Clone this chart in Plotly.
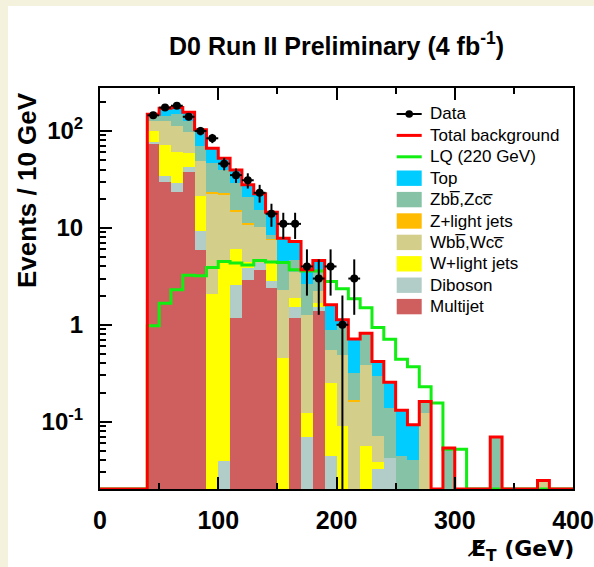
import numpy as np
import plotly.graph_objects as go

# ---------------- data (10 GeV bins from 0 to 400 GeV) ----------------
edges = list(range(0, 410, 10))

multijet = [0, 0, 0, 0, 73.5, 29.6, 23.2, 38.1, 5.93, 0,
            0, 1.17, 2.91, 3.69, 2.39, 0, 1.17, 0, 1.39, 0,
            0, 0, 0, 0, 0, 0, 0, 0, 0, 0,
            0, 0, 0, 0, 0, 0, 0, 0, 0, 0]
diboson = [0, 0, 0, 0, 4.1, 4.8, 5.7, 3.9, 3.3, 0,
           0.039, 1.41, 0.93, 0.64, 0.41, 0, 0.37, 0.07, 0.15, 0.044,
           0, 0, 0, 0.0325, 0.042, 0, 0, 0, 0, 0,
           0, 0, 0, 0, 0, 0, 0, 0, 0, 0]
w_light = [0, 0, 0, 0, 23.1, 37.3, 31.2, 17.3, 12.2, 2.09,
           4.3, 3.5, 0.6, 0, 1.5, 0.45, 0.34, 0.053, 0.15, 0.206,
           0.09, 0, 0.056, 0.0055, 0, 0, 0, 0, 0, 0,
           0, 0, 0, 0, 0, 0, 0, 0, 0, 0]
w_bb = [0, 0, 0, 0, 27.0, 55.1, 52.5, 39.1, 27.7, 20.3,
        17.7, 8.8, 6.5, 6.0, 3.2, 1.85, 1.66, 1.15, 0.55, 0.30,
        0.40, 0.158, 0.331, 0.0325, 0, 0, 0, 0.123, 0, 0,
        0, 0, 0, 0, 0, 0, 0, 0.0247, 0, 0]
z_light = [0, 0, 0, 0, 0, 0, 0, 0, 0.3, 0.8,
           0.8, 0.4, 0.3, 0, 0.2, 0, 0, 0, 0, 0,
           0, 0.011, 0, 0, 0, 0, 0, 0, 0, 0,
           0, 0, 0, 0, 0, 0, 0, 0, 0, 0]
z_bb = [0, 0, 0, 0, 16.8, 17.0, 36.1, 28.6, 20.4, 23.3,
        16.8, 13.6, 9.8, 5.0, 0.8, 2.0, 1.14, 1.38, 1.28, 0.336,
        0.50, 0.153, 0.433, 0.2225, 0.096, 0.044, 0.0405, 0.039, 0, 0.0536,
        0, 0, 0, 0.0695, 0, 0, 0, 0, 0, 0]
top = [0, 0, 0, 0, 4.1, 27.6, 26.3, 29.0, 33.0, 19.8,
       12.7, 10.7, 6.8, 7.1, 6.0, 3.5, 2.54, 1.04, 1.08, 0.72,
       0.14, 0.39, 0, 0.126, 0.117, 0.087, 0.0525, 0, 0, 0,
       0, 0, 0, 0, 0, 0, 0, 0, 0, 0]
lq_220 = [0, 0, 0, 0, 0.98, 1.67, 2.3, 3.25, 3.2, 3.9,
          4.5, 4.33, 4.15, 4.6, 4.45, 4.4, 3.7, 3.6, 3.6, 2.8,
          2.35, 1.86, 1.5, 0.94, 0.71, 0.44, 0.37, 0.23, 0.156, 0.052,
          0.052, 0, 0, 0, 0, 0, 0, 0, 0, 0]
data_counts = [145, 174, 182, 140, 100, 84, 46, 35, 31, 23,
               14, 11, 11, 4, 3, 4, 1, 3]
data_first_bin = 4

x_tickvals = [0, 100, 200, 300, 400]
x_ticktext = ["0", "100", "200", "300", "400"]
y_tickvals = [0.1, 1, 10, 100]
y_ticktext = ["10<sup>-1</sup>", "1", "10", "10<sup>2</sup>"]

# ---------------- geometry helpers (style only) ----------------
W, H = 594, 567
L, R, T, B = 100, 21, 88, 78
PW, PH = W - L - R, H - T - B
def px(x):
    return (x - L) / PW
def py(y):
    return (H - B - y) / PH

ylog_range = [-1.694, 2.443]
floor = 10 ** ylog_range[0]

centers = [e + 5 for e in edges[:-1]]

components = [
    ("Multijet", multijet, "#cf5f5f"),
    ("Diboson", diboson, "#b2cdc7"),
    ("W+light jets", w_light, "#ffff00"),
    ("Wbb\u0305,Wcc\u0305", w_bb, "#d3ce8a"),
    ("Z+light jets", z_light, "#ffbb00"),
    ("Zbb\u0305,Zcc\u0305", z_bb, "#86c2a5"),
    ("Top", top, "#00ccff"),
]

fig = go.Figure()
for name, vals, col in components:
    fig.add_trace(go.Bar(x=centers, y=vals, width=10, name=name,
                         marker=dict(color=col, line=dict(width=0)),
                         showlegend=False, hoverinfo="skip"))

total = np.sum([np.array(v) for _, v, _ in components], axis=0)

def step(vals):
    y = [v if v > 0 else floor for v in vals]
    return y + [y[-1]]

fig.add_trace(go.Scatter(x=edges, y=step(lq_220), mode="lines",
                         line=dict(color="#11ee11", width=3, shape="hv"),
                         showlegend=False, hoverinfo="skip"))
fig.add_trace(go.Scatter(x=edges, y=step(list(total)), mode="lines",
                         line=dict(color="#ff0000", width=3, shape="hv"),
                         showlegend=False, hoverinfo="skip"))

dx = centers[data_first_bin:data_first_bin + len(data_counts)]
err = [np.sqrt(n) for n in data_counts]
err_lo = [min(e, n * 0.9999) for e, n in zip(err, data_counts)]
fig.add_trace(go.Scatter(x=dx, y=data_counts, mode="markers",
                         marker=dict(color="black", size=8),
                         error_y=dict(type="data", array=err, arrayminus=err_lo,
                                      color="black", thickness=2, width=0),
                         error_x=dict(type="constant", value=5, color="black",
                                      thickness=2, width=0),
                         showlegend=False, hoverinfo="skip"))

# ---------------- layout ----------------
font_family = "Liberation Sans, Arial, Helvetica, sans-serif"
fig.update_layout(
    width=W, height=H,
    margin=dict(l=L, r=R, t=T, b=B),
    paper_bgcolor="#f4f1dc", plot_bgcolor="white",
    barmode="stack", bargap=0, showlegend=False,
    font=dict(family=font_family, color="black"),
)
fig.update_xaxes(range=[0, 400], tickmode="array", tickvals=x_tickvals,
                 ticktext=x_ticktext, ticks="inside", ticklen=12, tickwidth=2,
                 tickcolor="black", showline=True, linecolor="black", linewidth=2,
                 mirror="ticks", showgrid=False, zeroline=False, automargin=False,
                 tickfont=dict(size=25, weight="bold", family=font_family),
                 ticklabelstandoff=8, ticklabeloverflow="allow",
                 minor=dict(tickvals=[50, 150, 250, 350], ticks="inside",
                            ticklen=6, tickwidth=2, tickcolor="black"))
minor_y = [m * d for d in [0.01, 0.1, 1, 10, 100] for m in range(2, 10)]
fig.update_yaxes(type="log", range=ylog_range, tickmode="array",
                 tickvals=y_tickvals, ticktext=y_ticktext, ticks="inside",
                 ticklen=12, tickwidth=2, tickcolor="black", showline=True,
                 linecolor="black", linewidth=2, mirror=True, showgrid=False,
                 zeroline=False, automargin=False,
                 tickfont=dict(size=24, weight="bold", family=font_family),
                 ticklabelstandoff=10,
                 minor=dict(tickvals=minor_y, ticks="inside", ticklen=6,
                            tickwidth=2, tickcolor="black"))

shapes = []
annotations = []
# white page area inside beige frame
shapes.append(dict(type="rect", xref="paper", yref="paper",
                   x0=px(8), x1=px(W + 2), y0=py(H + 2), y1=py(6),
                   fillcolor="white", line=dict(width=0), layer="below"))

annotations.append(dict(text="D0 Run II Preliminary (4 fb<sup>-1</sup>)",
                        xref="paper", yref="paper", x=0.5, y=py(44),
                        xanchor="center", yanchor="middle", showarrow=False,
                        font=dict(size=25, weight="bold", family=font_family)))
annotations.append(dict(text="Events / 10 GeV", textangle=-90,
                        xref="paper", yref="paper", x=px(27), y=py(190),
                        xanchor="center", yanchor="middle", showarrow=False,
                        font=dict(size=26, weight="bold", family=font_family)))
annotations.append(dict(text="E\u0338<sub>T</sub> (GeV)",
                        xref="paper", yref="paper", x=px(576), y=py(550),
                        xanchor="right", yanchor="middle", showarrow=False,
                        font=dict(size=22, weight="bold",
                                  family="DejaVu Sans, Liberation Sans, sans-serif")))

# legend (drawn manually)
leg_x0, leg_x1, leg_tx = 396.7, 421.7, 427.7
row0, drow = 114, 21.4
line_entries = [("Data", "black", 2), ("Total background", "#ff0000", 3),
                ("LQ (220 GeV)", "#11ee11", 3)]
k = 0
for label, col, wdt in line_entries:
    yy = row0 + drow * k
    shapes.append(dict(type="line", xref="paper", yref="paper",
                       x0=px(leg_x0), x1=px(leg_x1), y0=py(yy), y1=py(yy),
                       line=dict(color=col, width=wdt)))
    if label == "Data":
        r = 3.8
        cx = (leg_x0 + leg_x1) / 2
        shapes.append(dict(type="circle", xref="paper", yref="paper",
                           x0=px(cx - r), x1=px(cx + r), y0=py(yy + r), y1=py(yy - r),
                           fillcolor="black", line=dict(color="black", width=0)))
    annotations.append(dict(text=label, xref="paper", yref="paper",
                            x=px(leg_tx), y=py(yy), xanchor="left", yanchor="middle",
                            showarrow=False, font=dict(size=17, family=font_family)))
    k += 1
for name, vals, col in reversed(components):
    yy = row0 + drow * k
    shapes.append(dict(type="rect", xref="paper", yref="paper",
                       x0=px(leg_x0), x1=px(leg_x1), y0=py(yy + 7.7), y1=py(yy - 7.7),
                       fillcolor=col, line=dict(width=0)))
    annotations.append(dict(text=name, xref="paper", yref="paper",
                            x=px(leg_tx), y=py(yy), xanchor="left", yanchor="middle",
                            showarrow=False, font=dict(size=17, family=font_family)))
    k += 1

fig.update_layout(shapes=shapes, annotations=annotations)
fig.write_html("out.html")
